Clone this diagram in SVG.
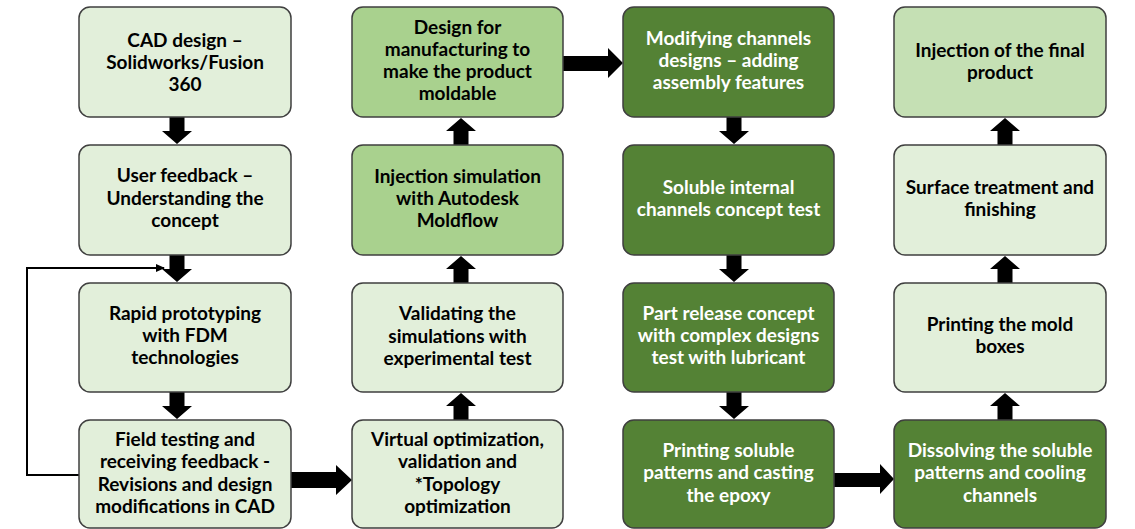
<svg xmlns="http://www.w3.org/2000/svg" width="1135" height="529" viewBox="0 0 1135 529">
<style>
.b{stroke:#3f3f3f;stroke-width:1.5}
.l{fill:#e2efda}
.m{fill:#a9d18e}
.f{fill:#c5e0b4}
.d{fill:#548235}
text{font-family:Lato,"Liberation Sans",sans-serif;font-weight:bold;font-size:19px;text-anchor:middle;fill:#000}
.w{fill:#fff}
.a{fill:#000}
.fb{fill:none;stroke:#000;stroke-width:2}
</style>
<defs>
<marker id="ah" markerWidth="9" markerHeight="8" refX="8" refY="4" orient="auto" markerUnits="userSpaceOnUse">
<path d="M0,0 L9,4 L0,8 Z" fill="#000"/>
</marker>
</defs>
<rect width="1135" height="529" fill="#fff"/>
<g id="connectors">
<polygon class="a" points="169.5,117 184.5,117 184.5,131 192,131 177,144 162,131 169.5,131"/>
<polygon class="a" points="169.5,255 184.5,255 184.5,269 192,269 177,282 162,269 169.5,269"/>
<polygon class="a" points="169.5,392 184.5,392 184.5,406 192,406 177,419 162,406 169.5,406"/>
<polygon class="a" points="453.5,420 468.5,420 468.5,406 476,406 461,393 446,406 453.5,406"/>
<polygon class="a" points="453.5,283 468.5,283 468.5,269 476,269 461,256 446,269 453.5,269"/>
<polygon class="a" points="453.5,145 468.5,145 468.5,131 476,131 461,118 446,131 453.5,131"/>
<polygon class="a" points="726.5,117 741.5,117 741.5,131 749,131 734,144 719,131 726.5,131"/>
<polygon class="a" points="726.5,255 741.5,255 741.5,269 749,269 734,282 719,269 726.5,269"/>
<polygon class="a" points="726.5,392 741.5,392 741.5,406 749,406 734,419 719,406 726.5,406"/>
<polygon class="a" points="997.5,420 1012.5,420 1012.5,406 1020,406 1005,393 990,406 997.5,406"/>
<polygon class="a" points="997.5,283 1012.5,283 1012.5,269 1020,269 1005,256 990,269 997.5,269"/>
<polygon class="a" points="997.5,145 1012.5,145 1012.5,131 1020,131 1005,118 990,131 997.5,131"/>
<polygon class="a" points="291,472 336,472 336,465 352,480 336,495 336,488 291,488"/>
<polygon class="a" points="563,56 608,56 608,48 623,63 608,78 608,71 563,71"/>
<polygon class="a" points="833,473 880,473 880,464 894,479 880,494 880,487 833,487"/>
<polyline class="fb" points="79,475 27,475 27,268 164,268" marker-end="url(#ah)"/>
</g>
<g id="n1"><rect class="b l" x="79" y="7" width="212" height="110" rx="11"/><text x="185" y="47">CAD design –</text><text x="185" y="69">Solidworks/Fusion</text><text x="185" y="91">360</text></g>
<g id="n2"><rect class="b l" x="79" y="145" width="212" height="110" rx="11"/><text x="185" y="182">User feedback –</text><text x="185" y="204.5">Understanding the</text><text x="185" y="227">concept</text></g>
<g id="n3"><rect class="b l" x="79" y="283" width="212" height="109" rx="11"/><text x="185" y="320">Rapid prototyping</text><text x="185" y="342">with FDM</text><text x="185" y="364">technologies</text></g>
<g id="n4"><rect class="b l" x="79" y="420" width="212" height="108" rx="11"/><text x="185" y="446">Field testing and</text><text x="185" y="468">receiving feedback -</text><text x="185" y="491">Revisions and design</text><text x="185" y="513">modifications in CAD</text></g>
<g id="n5"><rect class="b l" x="352" y="420" width="211" height="108" rx="11"/><text x="457.5" y="446">Virtual optimization,</text><text x="457.5" y="468">validation and</text><text x="457.5" y="491">*Topology</text><text x="457.5" y="513">optimization</text></g>
<g id="n6"><rect class="b l" x="352" y="283" width="211" height="109" rx="11"/><text x="457.5" y="320">Validating the</text><text x="457.5" y="342.5">simulations with</text><text x="457.5" y="364.5">experimental test</text></g>
<g id="n7"><rect class="b m" x="352" y="145" width="211" height="110" rx="11"/><text x="457.5" y="183">Injection simulation</text><text x="457.5" y="205">with Autodesk</text><text x="457.5" y="227">Moldflow</text></g>
<g id="n8"><rect class="b m" x="352" y="7" width="211" height="110" rx="11"/><text x="457.5" y="34">Design for</text><text x="457.5" y="56">manufacturing to</text><text x="457.5" y="78">make the product</text><text x="457.5" y="100">moldable</text></g>
<g id="n9"><rect class="b d" x="623" y="7" width="211" height="110" rx="11"/><text class="w" x="728.5" y="45">Modifying channels</text><text class="w" x="728.5" y="67">designs – adding</text><text class="w" x="728.5" y="89">assembly features</text></g>
<g id="n10"><rect class="b d" x="623" y="145" width="211" height="110" rx="11"/><text class="w" x="728.5" y="194">Soluble internal</text><text class="w" x="728.5" y="216">channels concept test</text></g>
<g id="n11"><rect class="b d" x="623" y="283" width="211" height="109" rx="11"/><text class="w" x="728.5" y="320">Part release concept</text><text class="w" x="728.5" y="342">with complex designs</text><text class="w" x="728.5" y="364">test with lubricant</text></g>
<g id="n12"><rect class="b d" x="623" y="420" width="211" height="108" rx="11"/><text class="w" x="728.5" y="457">Printing soluble</text><text class="w" x="728.5" y="479">patterns and casting</text><text class="w" x="728.5" y="502">the epoxy</text></g>
<g id="n13"><rect class="b d" x="894" y="420" width="212" height="108" rx="11"/><text class="w" x="1000" y="457">Dissolving the soluble</text><text class="w" x="1000" y="479">patterns and cooling</text><text class="w" x="1000" y="502">channels</text></g>
<g id="n14"><rect class="b l" x="894" y="283" width="212" height="109" rx="11"/><text x="1000" y="331">Printing the mold</text><text x="1000" y="353">boxes</text></g>
<g id="n15"><rect class="b l" x="894" y="145" width="212" height="110" rx="11"/><text x="1000" y="194">Surface treatment and</text><text x="1000" y="216">finishing</text></g>
<g id="n16"><rect class="b f" x="894" y="7" width="212" height="110" rx="11"/><text x="1000" y="57">Injection of the final</text><text x="1000" y="79">product</text></g>
</svg>
